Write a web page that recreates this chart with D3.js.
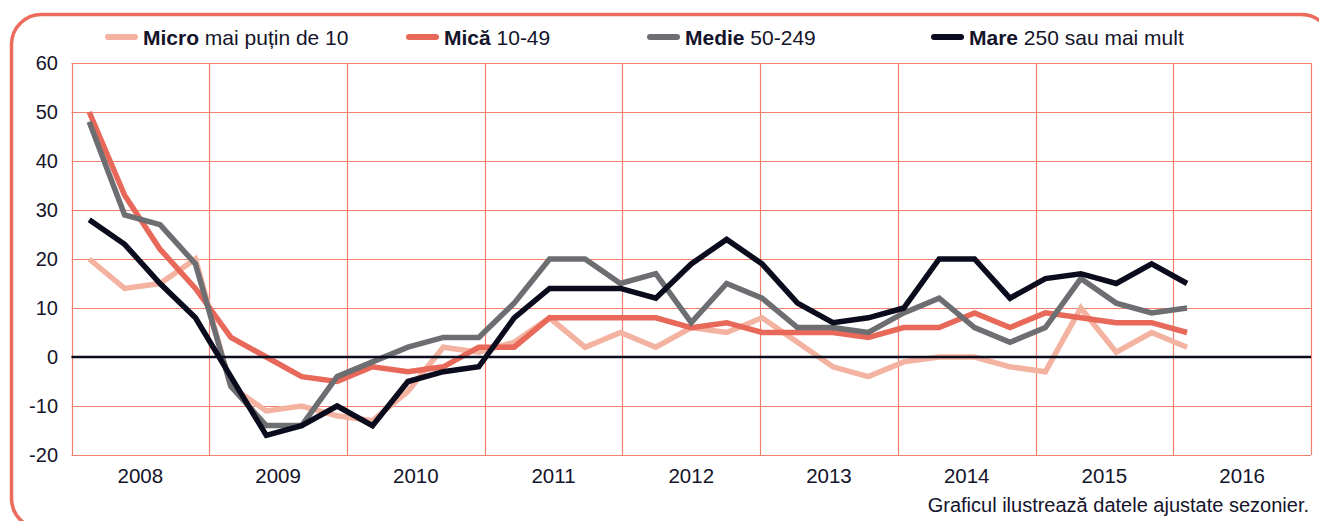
<!DOCTYPE html>
<html>
<head>
<meta charset="utf-8">
<script src="https://cdn.jsdelivr.net/npm/d3@7/dist/d3.min.js"></script>
<style>
  html, body { margin: 0; padding: 0; background: #fff; }
  svg { display: block; }
  text { font-family: "Liberation Sans", Arial, sans-serif; fill: #14142a; }
</style>
</head>
<body>
<svg id="chart" width="1319" height="521"></svg>
<script>
// ---- data ----
const years = ["2008", "2009", "2010", "2011", "2012", "2013", "2014", "2015", "2016"];
const quarters = [];
years.forEach(y => ["T1", "T2", "T3", "T4"].forEach(q => quarters.push(y + q)));
const slots = quarters.slice(0, 35); // x slots 2008T1 .. 2016T3

const seriesNames = ["Micro", "Mică", "Medie", "Mare"];
const seriesSuffix = [" mai puțin de 10", " 10-49", " 50-249", " 250 sau mai mult"];

const micro = [20, 14, 15, 20, -6, -11, -10, -12, -13, -7, 2, 1, 3, 8, 2, 5, 2, 6, 5, 8, 3, -2, -4, -1, 0, 0, -2, -3, 10, 1, 5, 2];
const mica  = [50, 33, 22, 14, 4, 0, -4, -5, -2, -3, -2, 2, 2, 8, 8, 8, 8, 6, 7, 5, 5, 5, 4, 6, 6, 9, 6, 9, 8, 7, 7, 5];
const medie = [48, 29, 27, 19, -6, -14, -14, -4, -1, 2, 4, 4, 11, 20, 20, 15, 17, 7, 15, 12, 6, 6, 5, 9, 12, 6, 3, 6, 16, 11, 9, 10];
const mare  = [28, 23, 15, 8, -4, -16, -14, -10, -14, -5, -3, -2, 8, 14, 14, 14, 12, 19, 24, 19, 11, 7, 8, 10, 20, 20, 12, 16, 17, 15, 19, 15];

const yTicks = [-20, -10, 0, 10, 20, 30, 40, 50, 60];
const note = "Graficul ilustrează datele ajustate sezonier.";

// ---- layout ----
const colors = ["#f4b3a1", "#e8695a", "#6d6e71", "#0b0b1e"];
const gridColor = "#ef8070";
const L = 71.5, R = 1311, T = 63, B = 455;

const svg = d3.select("#chart");

// frame
svg.append("rect")
  .attr("x", 11.5).attr("y", 14.5)
  .attr("width", 1320).attr("height", 514)
  .attr("rx", 30).attr("ry", 30)
  .attr("fill", "none").attr("stroke", "#ec6b5c").attr("stroke-width", 3.5);

const x = d3.scaleBand().domain(slots).range([L, R]).padding(0);
const xYear = d3.scaleBand().domain(years).range([L, R]).padding(0);
const y = d3.scaleLinear().domain([-20, 60]).range([B, T]);

// horizontal grid
svg.append("g").selectAll("line").data(yTicks).join("line")
  .attr("x1", L).attr("x2", R)
  .attr("y1", d => Math.round(y(d)) + 0.5).attr("y2", d => Math.round(y(d)) + 0.5)
  .attr("stroke", gridColor).attr("stroke-width", 1.2);

// vertical grid (year boundaries)
const bounds = years.map(yr => xYear(yr)).concat([R]);
svg.append("g").selectAll("line").data(bounds).join("line")
  .attr("x1", d => Math.round(d) + 0.5).attr("x2", d => Math.round(d) + 0.5)
  .attr("y1", T).attr("y2", B)
  .attr("stroke", gridColor).attr("stroke-width", 1.2);

// y axis labels
svg.append("g").selectAll("text").data(yTicks).join("text")
  .attr("x", 58).attr("y", d => y(d))
  .attr("dy", "0.36em")
  .attr("text-anchor", "end")
  .attr("font-size", 20)
  .text(d => d);

// x axis labels
svg.append("g").selectAll("text").data(years).join("text")
  .attr("x", d => xYear(d) + xYear.bandwidth() / 2)
  .attr("y", 483)
  .attr("text-anchor", "middle")
  .attr("font-size", 20.5)
  .text(d => d);

// series
const data = [micro, mica, medie, mare];
const line = d3.line()
  .x((d, i) => x(slots[i]) + x.bandwidth() / 2)
  .y(d => y(d));

data.forEach((s, k) => {
  svg.append("path")
    .datum(s)
    .attr("d", line)
    .attr("fill", "none")
    .attr("stroke", colors[k])
    .attr("stroke-width", 5.5)
    .attr("stroke-linejoin", "miter")
    .attr("stroke-linecap", "butt");
});

// zero line
svg.append("line")
  .attr("x1", L).attr("x2", R)
  .attr("y1", y(0)).attr("y2", y(0))
  .attr("stroke", "#0b0b1e").attr("stroke-width", 2.5);

// legend
const legX = [105, 406, 647, 931];
const leg = svg.append("g");
seriesNames.forEach((n, k) => {
  leg.append("line")
    .attr("x1", legX[k] + 3).attr("x2", legX[k] + 30)
    .attr("y1", 37).attr("y2", 37)
    .attr("stroke", colors[k]).attr("stroke-width", 6)
    .attr("stroke-linecap", "round");
  const t = leg.append("text")
    .attr("x", legX[k] + 38).attr("y", 44.5)
    .attr("font-size", 21);
  t.append("tspan").attr("font-weight", "bold").text(n);
  t.append("tspan").text(seriesSuffix[k]);
});

// footnote
svg.append("text")
  .attr("x", 1309).attr("y", 512)
  .attr("text-anchor", "end")
  .attr("font-size", 20)
  .text(note);
</script>
</body>
</html>
